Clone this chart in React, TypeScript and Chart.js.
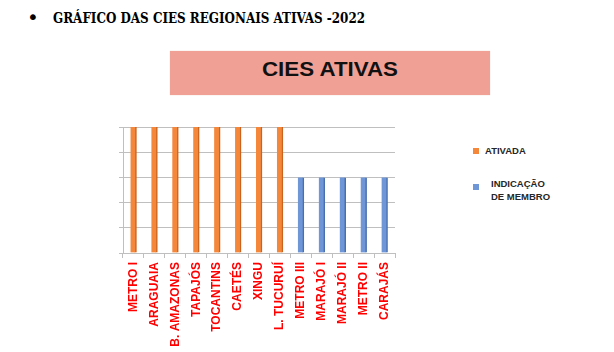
import React, { useEffect, useLayoutEffect, useRef } from "react";
import { Chart, registerables } from "chart.js";

Chart.register(...registerables);

const categories = [
  "METRO I",
  "ARAGUAIA",
  "B. AMAZONAS",
  "TAPAJÓS",
  "TOCANTINS",
  "CAETÉS",
  "XINGU",
  "L. TUCURUÍ",
  "METRO III",
  "MARAJÓ I",
  "MARAJÓ II",
  "METRO II",
  "CARAJÁS",
];
const ativada = [5, 5, 5, 5, 5, 5, 5, 5, null, null, null, null, null];
const indicacao = [null, null, null, null, null, null, null, null, 3, 3, 3, 3, 3];
const yTicks = [0, 1, 2, 3, 4, 5];

function FitText({ text, width, style }: { text: string; width: number; style: React.CSSProperties }) {
  const ref = useRef<HTMLSpanElement | null>(null);
  useLayoutEffect(() => {
    const el = ref.current;
    if (!el) return;
    el.style.transform = "none";
    const w = el.getBoundingClientRect().width;
    if (w > 0) el.style.transform = `scaleX(${width / w})`;
  }, [text, width]);
  return (
    <span ref={ref} style={{ display: "inline-block", whiteSpace: "nowrap", transformOrigin: "left center", ...style }}>
      {text}
    </span>
  );
}

export default function App() {
  const canvasRef = useRef<HTMLCanvasElement | null>(null);

  useEffect(() => {
    const canvas = canvasRef.current;
    if (!canvas) return;
    const chart = new Chart(canvas, {
      type: "bar",
      data: {
        labels: categories,
        datasets: [
          {
            label: "ATIVADA",
            data: ativada,
            backgroundColor: "#F5873A",
            borderColor: "#C9631E",
            borderWidth: { top: 0, left: 0, bottom: 0, right: 1.5 },
            borderSkipped: false,
            barThickness: 6,
          },
          {
            label: "INDICAÇÃO DE MEMBRO",
            data: indicacao,
            backgroundColor: "#6F97D8",
            borderColor: "#4A6FAE",
            borderWidth: { top: 0, left: 0, bottom: 0, right: 1.5 },
            borderSkipped: false,
            barThickness: 6,
          },
        ],
      },
      options: {
        responsive: false,
        animation: false,
        layout: { padding: { left: 0, right: 25, top: 10, bottom: 0 } },
        plugins: { legend: { display: false }, tooltip: { enabled: false } },
        scales: {
          x: {
            stacked: true,
            grid: {
              drawOnChartArea: false,
              drawTicks: true,
              tickLength: 5,
              color: "#BFBFBF",
              offset: true,
            },
            border: { display: true, color: "#BFBFBF" },
            ticks: {
              color: "#FF0000",
              font: { family: "'Liberation Sans', Arial, sans-serif", size: 12, weight: "bold" },
              minRotation: 90,
              maxRotation: 90,
              autoSkip: false,
              padding: 4,
            },
            afterFit: (scale: any) => {
              scale.height = 99;
            },
          },
          y: {
            stacked: true,
            min: yTicks[0],
            max: yTicks[yTicks.length - 1],
            ticks: { display: false, stepSize: 1 },
            grid: { color: "#BFBFBF", tickLength: 4, drawTicks: true },
            border: { display: true, color: "#BFBFBF" },
            afterFit: (scale: any) => {
              scale.width = 23;
            },
          },
        },
      },
    });
    return () => chart.destroy();
  }, []);

  const legendFont = "'Liberation Sans', Arial, sans-serif";

  return (
    <div style={{ position: "absolute", left: 0, top: 0, width: 614, height: 352, background: "#fff", overflow: "hidden" }}>
      <div style={{ position: "absolute", left: 27, top: 5, fontFamily: "'DejaVu Sans', sans-serif", fontSize: 20, color: "#000", lineHeight: "24px" }}>•</div>
      <div style={{ position: "absolute", left: 53, top: 9, lineHeight: "18px" }}>
        <FitText
          text="GRÁFICO DAS CIES REGIONAIS ATIVAS -2022"
          width={312}
          style={{ fontFamily: "'DejaVu Serif', serif", fontStretch: "condensed", fontSize: 15, fontWeight: "bold", color: "#000" }}
        />
      </div>
      <div
        style={{
          position: "absolute",
          left: 170,
          top: 51,
          width: 320,
          height: 44,
          background: "#F1A095",
          boxShadow: "0 0 1px #E8C8B8",
        }}
      />
      <div
        style={{
          position: "absolute",
          left: 262,
          top: 57,
          lineHeight: "24px",
        }}
      >
        <FitText
          text="CIES ATIVAS"
          width={136}
          style={{ fontFamily: legendFont, fontSize: 20, fontWeight: "bold", color: "#111" }}
        />
      </div>
      <canvas ref={canvasRef} width={320} height={235} style={{ position: "absolute", left: 100, top: 117 }} />
      <div style={{ position: "absolute", left: 473, top: 148, width: 6, height: 6, background: "#F5873A" }} />
      <div
        style={{ position: "absolute", left: 485, top: 145, fontFamily: legendFont, fontSize: 9.5, fontWeight: "bold", color: "#262626", lineHeight: "12px" }}
      >
        ATIVADA
      </div>
      <div style={{ position: "absolute", left: 473, top: 184, width: 6, height: 6, background: "#6F97D8" }} />
      <div
        style={{ position: "absolute", left: 491, top: 177, fontFamily: legendFont, fontSize: 9.5, fontWeight: "bold", color: "#262626", lineHeight: "13px" }}
      >
        INDICAÇÃO
        <br />
        DE MEMBRO
      </div>
    </div>
  );
}
